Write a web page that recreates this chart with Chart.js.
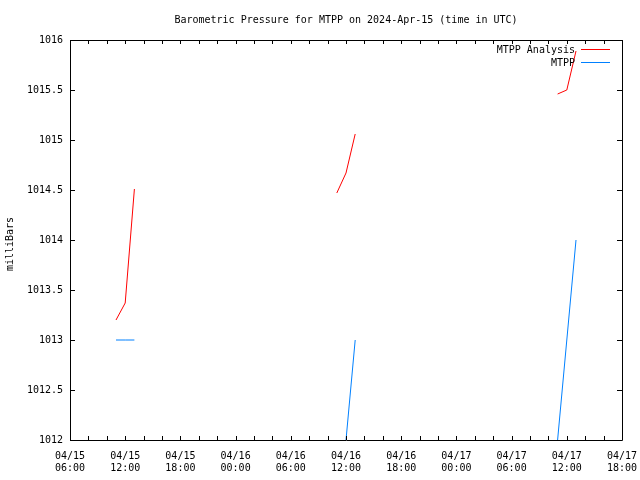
<!DOCTYPE html>
<html>
<head>
<meta charset="utf-8">
<script src="https://cdn.jsdelivr.net/npm/chart.js@4"></script>
<style>
  html, body { margin: 0; padding: 0; background: #fff; }
  #wrap { width: 640px; height: 480px; }
</style>
</head>
<body>
<div id="wrap"><canvas id="chart" width="640" height="480"></canvas></div>
<script>
const FONT = '"DejaVu Sans Mono", "Liberation Mono", monospace';

// axis range, hours counted from this start
const startTime = '2024-04-15T06:00:00Z';
const endTime = '2024-04-17T18:00:00Z';

// observation times (UTC)
const times = [
    '2024-04-15T11:00:00Z', '2024-04-15T12:00:00Z', '2024-04-15T13:00:00Z',
    '2024-04-16T11:00:00Z', '2024-04-16T12:00:00Z', '2024-04-16T13:00:00Z',
    '2024-04-17T11:00:00Z', '2024-04-17T12:00:00Z', '2024-04-17T13:00:00Z',
];

const analysisValues = [1013.2, 1013.37, 1014.51, 1014.47, 1014.67, 1015.06, 1015.46, 1015.5, 1015.89];
const stationValues = [1013.0, 1013.0, 1013.0, null, 1012.0, 1013.0, 1012.0, 1013.0, 1014.0];

const seriesNames = ['MTPP Analysis', 'MTPP'];
const seriesColors = ['#ff0000', '#0080ff'];

const yMin = 1012;
const yMax = 1016;
const yStep = 0.5;
const xStepHours = 2;
const xLabelEvery = 6;

const t0 = Date.parse(startTime);
const toHours = (t) => (Date.parse(t) - t0) / 3600000;
const xMax = toHours(endTime);

const pad2 = (n) => String(n).padStart(2, '0');

function makePoints(values) {
    return times.map((t, i) => ({ x: toHours(t), y: values[i] }));
}

// hide the line between days (gap bigger than one step)
function gapSegment(color) {
    return {
        borderColor: (ctx) => (ctx.p1.parsed.x - ctx.p0.parsed.x > 2 ? 'transparent' : color),
    };
}

const frame = {
    id: 'frame',
    afterDatasetsDraw(chart) {
        const { ctx, chartArea: a, scales } = chart;
        ctx.save();
        ctx.strokeStyle = '#000';
        ctx.lineWidth = 1;
        ctx.beginPath();
        ctx.rect(a.left + 0.5, a.top + 0.5, a.right - a.left, a.bottom - a.top);
        ctx.stroke();

        // inward ticks on all four sides
        ctx.beginPath();
        scales.x.ticks.forEach((t) => {
            const px = Math.round(scales.x.getPixelForValue(t.value)) + 0.5;
            ctx.moveTo(px, a.bottom);
            ctx.lineTo(px, a.bottom - 4);
            ctx.moveTo(px, a.top);
            ctx.lineTo(px, a.top + 4);
        });
        scales.y.ticks.forEach((t) => {
            const py = Math.round(scales.y.getPixelForValue(t.value)) + 0.5;
            ctx.moveTo(a.left, py);
            ctx.lineTo(a.left + 5, py);
            ctx.moveTo(a.right, py);
            ctx.lineTo(a.right - 5, py);
        });
        ctx.stroke();

        // title
        ctx.fillStyle = '#000';
        ctx.font = '10px ' + FONT;
        ctx.textAlign = 'center';
        ctx.textBaseline = 'middle';
        ctx.fillText('Barometric Pressure for MTPP on 2024-Apr-15 (time in UTC)', (a.left + a.right) / 2, 20);

        // y axis title
        ctx.save();
        ctx.translate(10, (a.top + a.bottom) / 2 + 4);
        ctx.rotate(-Math.PI / 2);
        ctx.fillText('milliBars', 0, 0);
        ctx.restore();

        // legend, text right aligned before the sample line
        ctx.textAlign = 'right';
        seriesNames.forEach((name, i) => {
            const y = 50 + i * 13;
            ctx.fillStyle = '#000';
            ctx.fillText(name, 575, y);
            ctx.strokeStyle = seriesColors[i];
            ctx.beginPath();
            ctx.moveTo(581, y - 0.5);
            ctx.lineTo(610, y - 0.5);
            ctx.stroke();
        });
        ctx.restore();
    },
};

new Chart(document.getElementById('chart'), {
    type: 'line',
    data: {
        datasets: [
            {
                label: seriesNames[0],
                data: makePoints(analysisValues),
                borderColor: seriesColors[0],
                borderWidth: 1,
                pointRadius: 0,
                spanGaps: false,
                segment: gapSegment(seriesColors[0]),
            },
            {
                label: seriesNames[1],
                data: makePoints(stationValues),
                borderColor: seriesColors[1],
                borderWidth: 1,
                pointRadius: 0,
                spanGaps: false,
                segment: gapSegment(seriesColors[1]),
            },
        ],
    },
    plugins: [frame],
    options: {
        responsive: false,
        animation: false,
        layout: { padding: { left: 0, right: 18, top: 40, bottom: 0 } },
        plugins: {
            legend: { display: false },
            title: { display: false },
            tooltip: { enabled: false },
        },
        scales: {
            x: {
                type: 'linear',
                min: 0,
                max: xMax,
                grid: { display: false, drawTicks: false },
                border: { display: false },
                afterFit: (scale) => {
                    scale.height = 40;
                    scale.paddingLeft = 0;
                    scale.paddingRight = 0;
                },
                afterBuildTicks: (scale) => {
                    const ticks = [];
                    for (let h = 0; h <= xMax; h += xStepHours) ticks.push({ value: h });
                    scale.ticks = ticks;
                },
                ticks: {
                    autoSkip: false,
                    maxRotation: 0,
                    padding: 10,
                    color: '#000',
                    font: { family: FONT, size: 10, lineHeight: 1.2 },
                    callback: (value) => {
                        if (value % xLabelEvery !== 0) return '';
                        const d = new Date(t0 + value * 3600000);
                        return [
                            pad2(d.getUTCMonth() + 1) + '/' + pad2(d.getUTCDate()),
                            pad2(d.getUTCHours()) + ':' + pad2(d.getUTCMinutes()),
                        ];
                    },
                },
            },
            y: {
                min: yMin,
                max: yMax,
                grid: { display: false, drawTicks: false },
                border: { display: false },
                afterFit: (scale) => {
                    scale.width = 70;
                    scale.paddingTop = 0;
                    scale.paddingBottom = 0;
                },
                ticks: {
                    stepSize: yStep,
                    padding: 7,
                    color: '#000',
                    font: { family: FONT, size: 10 },
                    callback: (value) => String(value),
                },
            },
        },
    },
});
</script>
</body>
</html>
